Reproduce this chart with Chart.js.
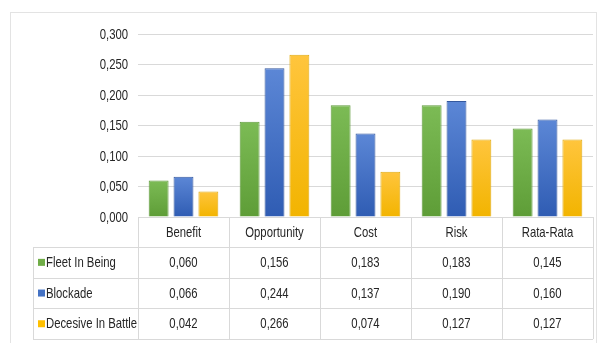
<!DOCTYPE html>
<html>
<head>
<meta charset="utf-8">
<script src="https://cdn.jsdelivr.net/npm/chart.js@4.4.0/dist/chart.umd.min.js"></script>
<style>
  html, body { margin: 0; padding: 0; background: #fff; }
  #wrap { width: 604px; height: 343px; position: relative; }
</style>
</head>
<body>
<div id="wrap"><canvas id="chart" width="604" height="343"></canvas></div>
<script>
// Data
const categories = ['Benefit', 'Opportunity', 'Cost', 'Risk', 'Rata-Rata'];
const fleetInBeing = [0.060, 0.156, 0.183, 0.183, 0.145];
const blockade = [0.066, 0.244, 0.137, 0.190, 0.160];
const decesiveInBattle = [0.042, 0.266, 0.074, 0.127, 0.127];
const seriesNames = ['Fleet In Being', 'Blockade', 'Decesive In Battle'];
const yMin = 0, yMax = 0.3, yStep = 0.05;

const FONT = '14.5px "Liberation Sans", Arial, sans-serif';
const SQUEEZE = 0.78;   // the source text is tall and narrow
const TEXT = '#262626';
const LINE = '#d9d9d9';

const fmt = v => v.toFixed(3).replace('.', ',');

// lighter at the top of each bar, darker at its base
function barGradient(top, bottom) {
    return function(ctx) {
        const chart = ctx.chart;
        const y = chart.scales && chart.scales.y;
        if (!y || ctx.raw == null) return bottom;
        const y0 = y.getPixelForValue(ctx.raw);
        const y1 = y.getPixelForValue(0);
        if (!isFinite(y0) || !isFinite(y1) || y0 === y1) return bottom;
        const g = chart.ctx.createLinearGradient(0, y0, 0, y1);
        g.addColorStop(0, top);
        g.addColorStop(1, bottom);
        return g;
    };
}

const swatch = ['#70ad47', '#4472c4', '#ffc000'];

// draws narrow text anchored at (x, y)
function narrowText(c, str, x, y, align) {
    c.save();
    c.translate(x, y);
    c.scale(SQUEEZE, 1);
    c.textAlign = align;
    c.fillText(str, 0, 0);
    c.restore();
}

// Frame and white background
const framePlugin = {
    id: 'frame',
    beforeDraw(chart) {
        const c = chart.ctx;
        c.save();
        c.fillStyle = '#fff';
        c.fillRect(0, 0, chart.width, chart.height);
        c.strokeStyle = '#e3e3e3';
        c.lineWidth = 1;
        c.strokeRect(10.5, 12.5, 586, 340);
        c.restore();
    }
};

// Axis labels and the data table under the plot
const tablePlugin = {
    id: 'dataTable',
    afterDraw(chart) {
        const c = chart.ctx;
        const area = chart.chartArea;
        const x = chart.scales.x;
        const y = chart.scales.y;
        const n = categories.length;
        const colW = (area.right - area.left) / n;
        const headTop = area.bottom;
        const rowTop = headTop + 30;
        const rowH = 30.7;
        const legendLeft = 33;
        const rows = [fleetInBeing, blockade, decesiveInBattle];

        c.save();
        c.strokeStyle = LINE;
        c.lineWidth = 1;
        c.beginPath();
        for (let i = 0; i <= n; i++) {
            const px = Math.round(area.left + i * colW) + 0.5;
            c.moveTo(px, headTop);
            c.lineTo(px, rowTop + rows.length * rowH);
        }
        c.moveTo(legendLeft + 0.5, rowTop);
        c.lineTo(legendLeft + 0.5, rowTop + rows.length * rowH);
        for (let r = 0; r <= rows.length; r++) {
            const py = Math.round(rowTop + r * rowH) + 0.5;
            c.moveTo(legendLeft, py);
            c.lineTo(area.right, py);
        }
        c.stroke();

        c.font = FONT;
        c.fillStyle = TEXT;
        c.textBaseline = 'middle';

        // y tick labels
        y.ticks.forEach(t => {
            narrowText(c, fmt(t.value), area.left - 10, y.getPixelForValue(t.value) + 0.5, 'right');
        });
        // category labels (header row)
        categories.forEach((lab, i) => {
            narrowText(c, lab, x.getPixelForValue(i), headTop + 15.5, 'center');
        });

        rows.forEach((vals, r) => {
            const cy = rowTop + r * rowH + rowH / 2 + 0.5;
            c.fillStyle = swatch[r];
            c.fillRect(legendLeft + 5, cy - 4, 7, 7);
            c.fillStyle = TEXT;
            narrowText(c, seriesNames[r], legendLeft + 13, cy, 'left');
            vals.forEach((v, i) => {
                narrowText(c, fmt(v), x.getPixelForValue(i), cy, 'center');
            });
        });
        c.restore();
    }
};

new Chart(document.getElementById('chart'), {
    type: 'bar',
    data: {
        labels: categories,
        datasets: [
            {
                label: seriesNames[0],
                data: fleetInBeing,
                backgroundColor: barGradient('#7cbb55', '#5e9d37'),
                borderColor: '#5f9a3c',
                borderWidth: 1
            },
            {
                label: seriesNames[1],
                data: blockade,
                backgroundColor: barGradient('#5c87d6', '#2f5cb3'),
                borderColor: '#34589e',
                borderWidth: 1
            },
            {
                label: seriesNames[2],
                data: decesiveInBattle,
                backgroundColor: barGradient('#ffc53d', '#f2b400'),
                borderColor: '#e0aa10',
                borderWidth: 1
            }
        ]
    },
    options: {
        responsive: false,
        animation: false,
        devicePixelRatio: 1,
        layout: { padding: { top: 34, right: 11, left: 0, bottom: 0 } },
        plugins: {
            legend: { display: false },
            title: { display: false },
            tooltip: { enabled: false }
        },
        datasets: {
            bar: { categoryPercentage: 0.82, barPercentage: 0.8 }
        },
        scales: {
            x: {
                grid: { display: false, drawTicks: false },
                border: { display: false },
                ticks: { display: false },
                afterFit(scale) { scale.height = 126; }
            },
            y: {
                min: yMin,
                max: yMax,
                grid: { color: LINE, drawTicks: false },
                border: { display: false },
                ticks: { display: false, stepSize: yStep },
                afterFit(scale) { scale.width = 138; }
            }
        }
    },
    plugins: [framePlugin, tablePlugin]
});
</script>
</body>
</html>
